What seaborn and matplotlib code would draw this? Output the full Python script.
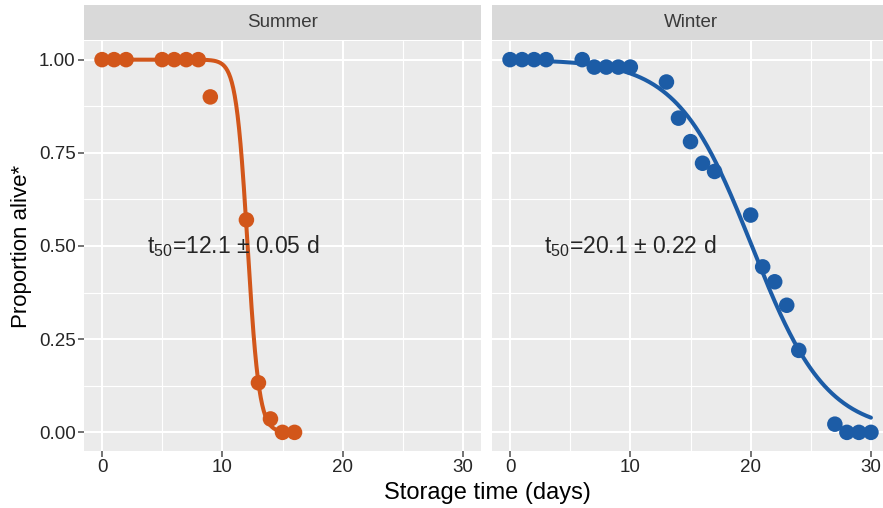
import numpy as np
import pandas as pd
import matplotlib
matplotlib.use("Agg")
import matplotlib.pyplot as plt
import seaborn as sns

# ---- data ----
seasons = ["Summer", "Winter"]
summer_days = [0, 1, 2, 5, 6, 7, 8, 9, 12, 13, 14, 15, 16]
summer_alive = [1.0, 1.0, 1.0, 1.0, 1.0, 1.0, 1.0, 0.90, 0.57, 0.133, 0.036, 0.0, 0.0]
winter_days = [0, 1, 2, 3, 6, 7, 8, 9, 10, 13, 14, 15, 16, 17, 20, 21, 22, 23, 24, 27, 28, 29, 30]
winter_alive = [1.0, 1.0, 1.0, 1.0, 1.0, 0.98, 0.98, 0.98, 0.98, 0.94, 0.843, 0.78, 0.722,
                0.70, 0.583, 0.444, 0.404, 0.341, 0.22, 0.022, 0.0, 0.0, 0.0]
t50_values = [12.1, 20.1]
t50_errors = ["0.05", "0.22"]
fit_scale = [0.48, 3.1]
fit_end = [16, 30]
labels = [r"t$_{50}$=12.1 $\pm$ 0.05 d", r"t$_{50}$=20.1 $\pm$ 0.22 d"]
label_x = [10.9, 10.0]
x_ticks = [0, 10, 20, 30]
y_ticks = [0.0, 0.25, 0.50, 0.75, 1.00]
y_ticklabels = ["0.00", "0.25", "0.50", "0.75", "1.00"]
colors = ["#D2561A", "#1C5CA6"]

sns.set_theme(style="darkgrid")
plt.rcParams["font.family"] = ["Liberation Sans", "DejaVu Sans"]
plt.rcParams["mathtext.fontset"] = "custom"
plt.rcParams["mathtext.rm"] = "Liberation Sans"
plt.rcParams["mathtext.it"] = "Liberation Sans"

W, H = 883, 508
fig = plt.figure(figsize=(W / 100, H / 100), dpi=100)

points = [pd.DataFrame({"day": summer_days, "alive": summer_alive}),
          pd.DataFrame({"day": winter_days, "alive": winter_alive})]

panel_left = [84, 492]
panel_w = 397
panel_top, panel_bot = 41, 451
strip_top, strip_bot = 5, 40

for i, season in enumerate(seasons):
    ax = fig.add_axes([panel_left[i] / W, 1 - panel_bot / H, panel_w / W, (panel_bot - panel_top) / H])
    ax.set_facecolor("#EBEBEB")
    fx = np.linspace(0, fit_end[i], 400)
    fy = 1.0 / (1.0 + np.exp((fx - t50_values[i]) / fit_scale[i]))
    fit = pd.DataFrame({"day": fx, "alive": fy})
    sns.lineplot(data=fit, x="day", y="alive", ax=ax, color=colors[i], lw=2.9, zorder=3)
    sns.scatterplot(data=points[i], x="day", y="alive", ax=ax, color=colors[i], s=125,
                    edgecolor="none", linewidth=0, zorder=4)
    ax.text(label_x[i], 0.5, labels[i], ha="center", va="center", fontsize=16.5, color="#262626", zorder=5)
    ax.set_xlim(-1.5, 31.5)
    ax.set_ylim(-0.05, 1.05)
    ax.set_xticks(x_ticks)
    ax.set_xticks([5, 15, 25], minor=True)
    ax.set_yticks(y_ticks)
    ax.set_yticks([0.125, 0.375, 0.625, 0.875], minor=True)
    ax.grid(which="major", color="white", lw=1.5)
    ax.grid(which="minor", color="white", lw=0.8)
    ax.set_axisbelow(True)
    for s in ax.spines.values():
        s.set_visible(False)
    ax.tick_params(axis="both", which="major", length=4, width=1.1, color="#4d4d4d",
                   labelsize=13.5, labelcolor="#262626", pad=2, bottom=True, left=True)
    ax.tick_params(which="minor", length=0)
    ax.set_xticklabels([str(t) for t in x_ticks])
    if i == 0:
        ax.set_yticklabels(y_ticklabels)
        ax.set_ylabel("Proportion alive*", fontsize=16, color="black", labelpad=5)
    else:
        ax.set_yticklabels([])
        ax.tick_params(axis="y", length=0)
        ax.set_ylabel("")
    ax.set_xlabel("")

    sax = fig.add_axes([panel_left[i] / W, 1 - strip_bot / H, panel_w / W, (strip_bot - strip_top) / H])
    sax.set_facecolor("#D9D9D9")
    sax.set_xticks([])
    sax.set_yticks([])
    sax.grid(False)
    for s in sax.spines.values():
        s.set_visible(False)
    sax.text(0.5, 0.5, season, ha="center", va="center", fontsize=13.5, color="#3a3a3a",
             transform=sax.transAxes)

fig.text(487 / W, 1 - 493 / H, "Storage time (days)", ha="center", va="center", fontsize=17, color="black")

fig.savefig("out.png", dpi=100, facecolor="white")
